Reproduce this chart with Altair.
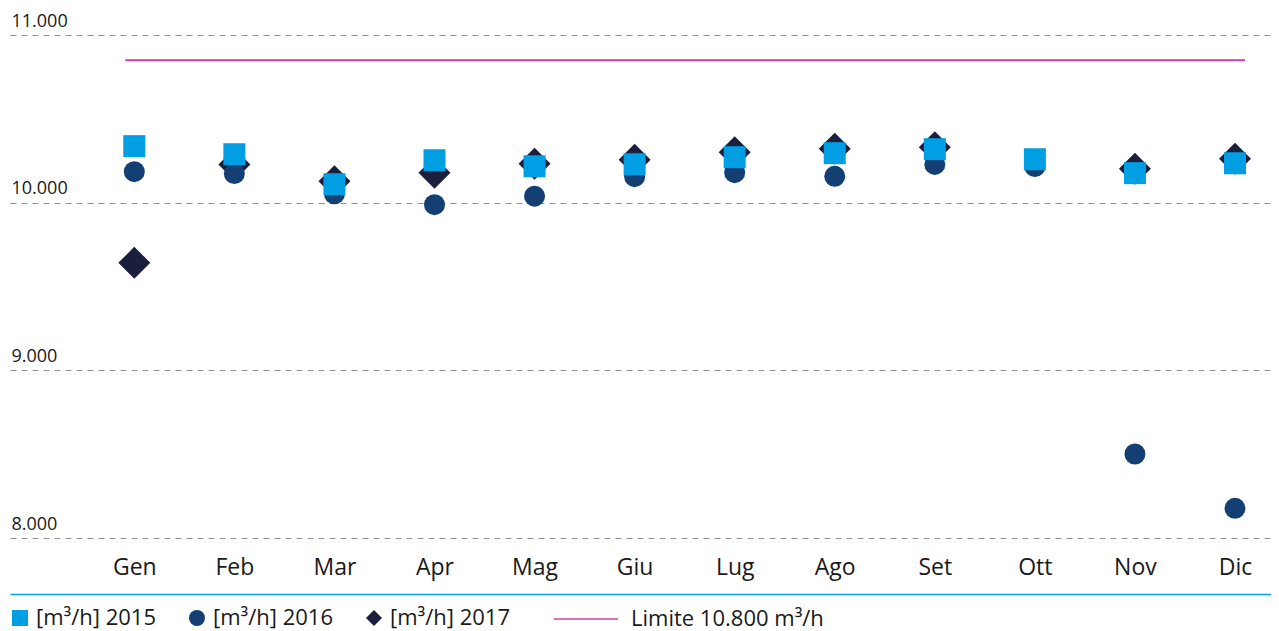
import altair as alt
import pandas as pd

mesi = ["Gen", "Feb", "Mar", "Apr", "Mag", "Giu", "Lug", "Ago", "Set", "Ott", "Nov", "Dic"]
serie_2015 = [10337, 10289, 10110, 10253, 10217, 10229, 10271, 10295, 10319, 10259, 10176, 10235]
serie_2016 = [10185, 10174, 10053, 9988, 10039, 10155, 10179, 10157, 10228, 10216, 8501, 8177]
serie_2017 = [9641, 10228, 10128, 10179, 10232, 10256, 10300, 10322, 10331, None, 10202, 10262]
limite = 10850
y_ticks = [8000, 9000, 10000, 11000]

L15 = "[m³/h] 2015"
L16 = "[m³/h] 2016"
L17 = "[m³/h] 2017"
LLIM = "Limite 10.800 m³/h"
serie_nomi = [L15, L16, L17]
colori = ["#009fe3", "#143f73", "#1c1e3e"]
forme = ["square", "circle", "diamond"]
dimensioni = {L15: 484, L16: 441, L17: 1024}
colore_limite = "#c8409a"


def tabella(nome, vals):
    return pd.DataFrame(
        [{"mese": m, "valore": v, "serie": nome} for m, v in zip(mesi, vals) if v is not None]
    )


df_lim = pd.DataFrame([{"da": mesi[0], "a": mesi[-1], "valore": limite, "nome_limite": LLIM}])

FONT = "Open Sans"

x_scale = alt.Scale(domain=mesi, type="point", padding=0.801, align=0.7754)
y_scale = alt.Scale(domain=[8000, 11000], nice=False, zero=False)
color_scale = alt.Scale(domain=serie_nomi, range=colori)
shape_scale = alt.Scale(domain=serie_nomi, range=forme)

legend_common = dict(
    title=None,
    orient="none",
    direction="horizontal",
    padding=0,
    labelFont=FONT,
    labelFontSize=22,
    labelColor="#1a1a1a",
    labelLimit=400,
)

legend_punti = alt.Legend(
    legendX=-1,
    legendY=572,
    columns=3,
    columnPadding=29,
    symbolSize=256,
    labelOffset=5,
    **legend_common,
)

legend_limite = alt.Legend(
    legendX=543,
    legendY=551,
    symbolType="stroke",
    symbolSize=4096,
    symbolStrokeWidth=1.3,
    labelOffset=12,
    **legend_common,
)

x_axis = alt.Axis(
    title=None,
    orient="bottom",
    offset=56,
    domainColor="#00a0e3",
    domainWidth=1.5,
    ticks=False,
    grid=False,
    labelPadding=-20,
    labelAlign="center",
    labelBaseline="alphabetic",
    labelFont=FONT,
    labelFontSize=23,
    labelColor="#1a1a1a",
    labelAngle=0,
)

y_axis = alt.Axis(
    title=None,
    values=y_ticks,
    domain=False,
    ticks=False,
    grid=True,
    gridDash=[6, 5],
    gridColor="#919191",
    gridWidth=1,
    labelAlign="left",
    labelBaseline="alphabetic",
    labelPadding=-1,
    labelOffset=-9,
    labelFlush=False,
    labelFont=FONT,
    labelFontSize=18,
    labelColor="#1a1a1a",
    labelExpr="replace(format(datum.value, ','), ',', '.')",
)


def strato(nome, vals):
    return alt.Chart(tabella(nome, vals)).mark_point(
        filled=True, opacity=1, size=dimensioni[nome]
    ).encode(
        x=alt.X("mese:N", scale=x_scale, axis=x_axis, sort=mesi),
        y=alt.Y("valore:Q", scale=y_scale, axis=y_axis),
        color=alt.Color("serie:N", scale=color_scale, legend=legend_punti),
        shape=alt.Shape("serie:N", scale=shape_scale, legend=legend_punti),
    )


linea = alt.Chart(df_lim).mark_rule(strokeWidth=2, xOffset=-9, x2Offset=10).encode(
    x=alt.X("da:N", scale=x_scale, sort=mesi),
    x2="a:N",
    y=alt.Y("valore:Q", scale=y_scale),
    stroke=alt.Stroke("nome_limite:N", scale=alt.Scale(domain=[LLIM], range=[colore_limite]), legend=legend_limite),
)

chart = alt.layer(
    linea,
    strato(L17, serie_2017),
    strato(L16, serie_2016),
    strato(L15, serie_2015),
).properties(
    width=1261,
    height=503,
    autosize=alt.AutoSizeParams(type="none"),
    padding={"left": 2, "top": 27, "right": 0, "bottom": 93},
    background="white",
).configure_view(stroke=None)

chart.save("out.html", embed_options={"renderer": "svg", "actions": False})
